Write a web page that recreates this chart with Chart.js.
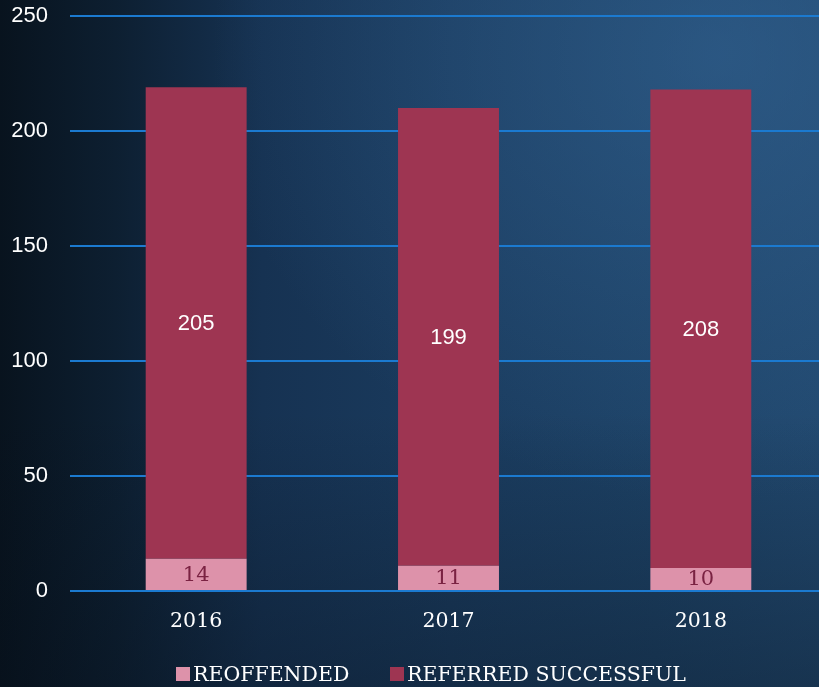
<!DOCTYPE html>
<html>
<head>
<meta charset="utf-8">
<script src="https://cdn.jsdelivr.net/npm/chart.js@4"></script>
<style>
  html, body { margin: 0; padding: 0; overflow: hidden; }
  body {
    width: 819px; height: 687px;
    background:
      linear-gradient(0deg, rgba(6,14,24,0.35) 0%, rgba(6,14,24,0) 40%),
      radial-gradient(ellipse at 88% 8%, rgba(55,105,155,0.5) 0%, rgba(55,105,155,0) 50%),
      linear-gradient(90deg, #08131e 0%, #0d1f31 14%, #163252 32%, #1a3b5e 55%, #1d4266 80%, #21486e 100%);
  }
  #wrap { position: relative; width: 827px; height: 687px; }
  #legend {
    position: absolute; left: 0; top: 662px; width: 819px;
    font-family: "DejaVu Serif"; font-size: 20.5px; color: #fff;
    white-space: nowrap;
  }
  #legend span.item { position: absolute; top: 0; }
  #legend i { display: inline-block; width: 14px; height: 14px; margin-right: 3px; vertical-align: 0; }
</style>
</head>
<body>
<div id="wrap"><canvas id="chart"></canvas></div>
<div id="legend"></div>
<script>
const years = ['2016', '2017', '2018'];
const reoffended = [14, 11, 10];
const referredSuccessful = [205, 199, 208];
const yTicks = [0, 50, 100, 150, 200, 250];

// simple inline value labels (no datalabels plugin available)
const valueLabels = {
    id: 'valueLabels',
    afterDatasetsDraw(chart) {
        const ctx = chart.ctx;
        chart.data.datasets.forEach((ds, i) => {
            const meta = chart.getDatasetMeta(i);
            meta.data.forEach((bar, j) => {
                const mid = (bar.y + bar.base) / 2;
                ctx.save();
                ctx.textAlign = 'center';
                ctx.textBaseline = 'middle';
                if (i === 0) {
                    ctx.fillStyle = '#7a2242';
                    ctx.font = '21px "DejaVu Serif"';
                } else {
                    ctx.fillStyle = '#ffffff';
                    ctx.font = '22px "Liberation Sans"';
                }
                ctx.fillText(ds.data[j], bar.x, mid + 1);
                ctx.restore();
            });
        });
    }
};

const chart = new Chart(document.getElementById('chart'), {
    type: 'bar',
    data: {
        labels: years,
        datasets: [{
            label: 'REOFFENDED',
            data: reoffended,
            backgroundColor: '#dd92aa'
        }, {
            label: 'REFERRED SUCCESSFUL',
            data: referredSuccessful,
            backgroundColor: '#9e3552'
        }]
    },
    options: {
        responsive: true,
        maintainAspectRatio: false,
        animation: false,
        layout: { padding: 0 },
        datasets: {
            bar: { categoryPercentage: 0.8, barPercentage: 0.5 }
        },
        scales: {
            x: {
                stacked: true,
                grid: { display: false, drawTicks: false },
                border: { display: false },
                ticks: {
                    color: '#ffffff',
                    padding: 18,
                    font: { family: 'DejaVu Serif', size: 20.5 }
                },
                afterFit(scale) { scale.height = 96; }
            },
            y: {
                stacked: true,
                min: 0,
                max: 250,
                afterBuildTicks(scale) { scale.ticks = yTicks.map(v => ({ value: v })); },
                grid: { color: '#1b7ad0', lineWidth: 2, drawTicks: false },
                border: { display: false },
                ticks: {
                    color: '#ffffff',
                    padding: 22,
                    font: { family: 'Liberation Sans', size: 22 }
                },
                afterFit(scale) {
                    scale.width = 70;
                    scale.paddingTop = 16;
                }
            }
        },
        plugins: {
            legend: { display: false },
            tooltip: { enabled: false }
        }
    },
    plugins: [valueLabels]
});

// html legend built from the datasets
const legendEl = document.getElementById('legend');
const legendX = [176, 390];
chart.data.datasets.forEach((ds, i) => {
    const item = document.createElement('span');
    item.className = 'item';
    item.style.left = legendX[i] + 'px';
    item.innerHTML = '<i style="background:' + ds.backgroundColor + '"></i>' + ds.label;
    legendEl.appendChild(item);
});
</script>
</body>
</html>
